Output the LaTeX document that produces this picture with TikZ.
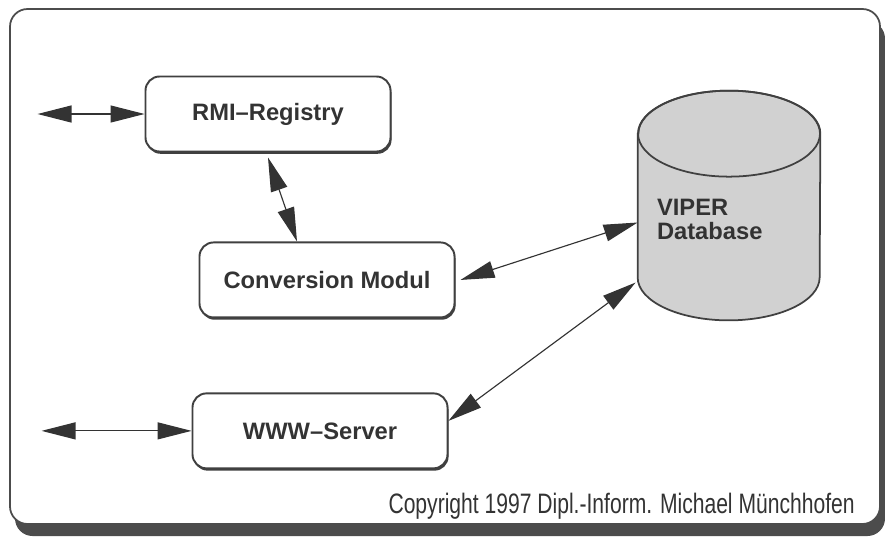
\documentclass[tikz,border=0pt]{standalone}
\usepackage{fontspec}
\setsansfont{Liberation Sans}
\newfontfamily\copyfont[FakeStretch=0.75]{Liberation Sans}
\usetikzlibrary{arrows.meta, positioning, shadows}

\begin{document}
\begin{tikzpicture}[
  node distance=1.5cm,
  every node/.style={font=\sffamily\bfseries\fontsize{13.5}{13.8}\selectfont, text=black!80},
  modbox/.style={rectangle, draw=black!75, line width=1.1pt, fill=white, rounded corners=8pt,
                 minimum width=5.1cm, minimum height=1.5cm, inner sep=2pt,
                 drop shadow={shadow xshift=0.6pt, shadow yshift=-1.3pt, fill=black!75, opacity=1}},
  dbody/.style ={rectangle, minimum width=3.64cm, minimum height=2.86cm, inner sep=0pt},
  dbline/.style={draw=black!75, line width=1pt},
  link/.style  ={<->, draw=black!80, line width=0.65pt},
  >={Triangle[length=6.8mm, width=3.4mm]}
]
\useasboundingbox (0,0) rectangle (17.7,-10.76);

% outer frame with its shadow
\fill[black!70, rounded corners=10pt] (0.3,-0.42) rectangle (17.7,-10.72);
\draw[black!70, line width=1pt, fill=white, rounded corners=10pt] (0.2,-0.18) rectangle (17.6,-10.48);

\node[modbox, minimum width=4.9cm] (rmi) at (5.36,-2.28) {RMI--Registry};
\node[modbox, below=1.78cm of rmi, xshift=1.18cm] (conv) {Conversion Modul};
\node[modbox, below=1.48cm of conv, xshift=-0.14cm] (www) {WWW--Server};

% database drum
\node[dbody] (db) at (14.58,-4.11) {};
\path[dbline, fill=black!18] (db.north west) -- (db.south west)
  arc[start angle=180, end angle=360, x radius=1.82cm, y radius=0.86cm]
  -- (db.north east)
  arc[start angle=0, end angle=180, x radius=1.82cm, y radius=0.86cm] -- cycle;
\draw[dbline] (db.north) ellipse[x radius=1.82cm, y radius=0.86cm];
\node[anchor=west, align=left, inner sep=0pt] (dblabel) at ([xshift=0.38cm, yshift=-0.28cm]db.west) {VIPER\\Database};

\coordinate[left=2.14cm of rmi] (rmiext);
\coordinate[left=3.0cm of www] (wwwext);

\draw[link] (rmiext) -- (rmi);
\draw[link] ([yshift=-0.1cm]rmi.south) -- ([xshift=-0.6cm]conv.north);
\draw[link] ([xshift=0.1cm]conv.east) -- ([yshift=-0.34cm]db.west);
\draw[link] ([yshift=0.2cm]www.east) -- ([xshift=-0.04cm, yshift=-1.54cm]db.west);
\draw[link] (wwwext) -- (www);

\node[font=\copyfont\fontsize{16}{18}\selectfont, anchor=base east, inner sep=0pt] (copy) at (17.1,-10.26)
  {Copyright 1997 Dipl.-Inform. Michael Münchhofen};

\end{tikzpicture}
\end{document}
